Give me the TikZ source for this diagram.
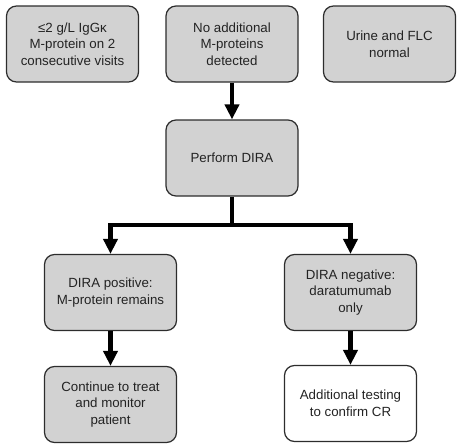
\documentclass[tikz,border=0pt]{standalone}
\usepackage{fontspec}
\setmainfont{Liberation Sans}
\usetikzlibrary{arrows.meta}
\definecolor{boxgray}{RGB}{210,210,210}
\definecolor{edgegray}{RGB}{45,45,45}
\definecolor{textgray}{RGB}{35,35,35}
\begin{document}
\begin{tikzpicture}[x=1pt, y=-1pt,
    stage/.style={draw=edgegray, line width=1.2pt, fill=boxgray, rounded corners=10pt,
        minimum width=132pt, minimum height=76pt, align=center, text=textgray,
        inner sep=2pt, font=\fontsize{13.3}{16.7}\selectfont},
    flow/.style={line width=4.5pt, black, -{Triangle[width=14pt,length=15pt]}}]
\useasboundingbox (0,0) rectangle (463,447);

% Top row
\node[stage] (visits) at (72.5,44) {≤2 g/L IgGκ\\M-protein on 2\\consecutive visits};
\node[stage] (noextra) at (232,44) {No additional\\M-proteins\\detected};
\node[stage] (urine) at (389.5,44) {Urine and FLC\\normal};

% Test
\node[stage] (dira) at (232,158) {Perform DIRA};

% Outcomes
\node[stage] (pos) at (110.5,292.5) {DIRA positive:\\M-protein remains};
\node[stage] (neg) at (350.5,292.5) {DIRA negative:\\daratumumab\\only};
\node[stage] (treat) at (110.5,404.5) {Continue to treat\\and monitor\\patient};
\node[stage, fill=white] (confirm) at (350.5,403.5) {Additional testing\\to confirm CR};

% Arrows
\coordinate (fork) at (232,225);
\draw[flow] (noextra) -- (dira);
\draw[flow] (dira) -- (fork) -| (pos);
\draw[flow] (fork) -| (neg);
\draw[flow] (pos) -- (treat);
\draw[flow] (neg) -- (confirm);
\end{tikzpicture}
\end{document}
